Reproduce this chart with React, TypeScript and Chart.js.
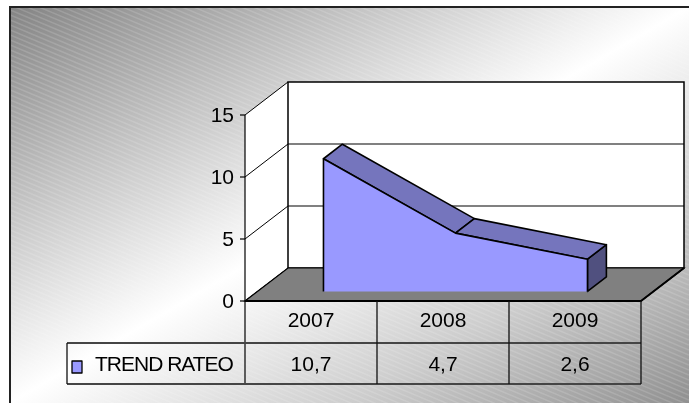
import React, { useEffect, useRef } from "react";
import { Chart, registerables } from "chart.js";

Chart.register(...registerables);

const categories = ["2007", "2008", "2009"];
const seriesName = "TREND RATEO";
const trendValues = [10.7, 4.7, 2.6];
const yTicks = [0, 5, 10, 15];

const FONT = '21px "Liberation Sans", Arial, sans-serif';

const fmt = (v: number) => String(v).replace(".", ",");

const chart3dPlugin = {
  id: "chart3d",
  afterDraw(chart: any) {
    const ctx: CanvasRenderingContext2D = chart.ctx;
    const W = chart.width;
    const H = chart.height;
    const xs = chart.scales.x;
    const ys = chart.scales.y;
    const area = chart.chartArea;
    const L = area.left;
    const R = area.right;
    const T = ys.getPixelForValue(yTicks[yTicks.length - 1]);
    const B = ys.getPixelForValue(0);
    const DX = 43;
    const DY = -33;
    const F1 = 0.29;
    const F2 = 0.73;

    ctx.save();
    // ---- page / frame background
    ctx.fillStyle = "#ffffff";
    ctx.fillRect(0, 0, W, H);
    const fx = 10, fy = 7;
    ctx.save();
    ctx.beginPath();
    ctx.rect(fx, fy, W - fx, H - fy);
    ctx.clip();
    ctx.save();
    ctx.translate(fx, fy);
    ctx.scale(W - fx, H - fy);
    const g = ctx.createLinearGradient(0, 0, 1, 1);
    g.addColorStop(0, "#848484");
    g.addColorStop(0.25, "#c2c2c2");
    g.addColorStop(0.5, "#ffffff");
    g.addColorStop(0.75, "#cdcdcd");
    g.addColorStop(1, "#909090");
    ctx.fillStyle = g;
    ctx.fillRect(0, 0, 1, 1);
    ctx.restore();
    // hatch
    ctx.strokeStyle = "rgba(255,255,255,0.14)";
    ctx.lineWidth = 1.5;
    const slope = 0.42;
    for (let y0 = -W * slope; y0 < H + 10; y0 += 5) {
      ctx.beginPath();
      ctx.moveTo(0, y0);
      ctx.lineTo(W, y0 + W * slope);
      ctx.stroke();
    }
    ctx.restore();
    ctx.strokeStyle = "#222";
    ctx.lineWidth = 2;
    ctx.beginPath();
    ctx.moveTo(fx, H);
    ctx.lineTo(fx, fy);
    ctx.lineTo(W, fy);
    ctx.stroke();

    // ---- walls
    ctx.fillStyle = "#ffffff";
    ctx.beginPath();
    ctx.moveTo(L, B);
    ctx.lineTo(L, T);
    ctx.lineTo(L + DX, T + DY);
    ctx.lineTo(L + DX, B + DY);
    ctx.closePath();
    ctx.fill();
    ctx.fillRect(L + DX, T + DY, R - L, B - T);

    // back-wall gridlines
    ctx.strokeStyle = "#808080";
    ctx.lineWidth = 2;
    yTicks.forEach((t) => {
      if (t === 0 || t === yTicks[yTicks.length - 1]) return;
      const y = ys.getPixelForValue(t) + DY;
      ctx.beginPath();
      ctx.moveTo(L + DX, y);
      ctx.lineTo(R + DX, y);
      ctx.stroke();
    });
    // side wall diagonals
    ctx.strokeStyle = "#000";
    ctx.lineWidth = 1;
    yTicks.forEach((t) => {
      const y = ys.getPixelForValue(t);
      ctx.beginPath();
      ctx.moveTo(L, y);
      ctx.lineTo(L + DX, y + DY);
      ctx.stroke();
    });
    // back wall border
    ctx.lineWidth = 1.5;
    ctx.strokeRect(L + DX, T + DY, R - L, B - T);

    // floor
    ctx.fillStyle = "#808080";
    ctx.beginPath();
    ctx.moveTo(L, B);
    ctx.lineTo(R, B);
    ctx.lineTo(R + DX, B + DY);
    ctx.lineTo(L + DX, B + DY);
    ctx.closePath();
    ctx.fill();
    ctx.strokeStyle = "#000";
    ctx.lineWidth = 1.2;
    ctx.stroke();

    // ---- 3D area
    const n = trendValues.length;
    const fp = trendValues.map((v, i) => ({
      x: xs.getPixelForValue(i) + F1 * DX,
      y: ys.getPixelForValue(v) + F1 * DY,
    }));
    const bp = trendValues.map((v, i) => ({
      x: xs.getPixelForValue(i) + F2 * DX,
      y: ys.getPixelForValue(v) + F2 * DY,
    }));
    const baseF = ys.getPixelForValue(0) + F1 * DY;
    const baseB = ys.getPixelForValue(0) + F2 * DY;
    ctx.lineJoin = "round";
    ctx.strokeStyle = "#000";
    ctx.lineWidth = 1.6;
    // end face at last category
    ctx.fillStyle = "#50507f";
    ctx.beginPath();
    ctx.moveTo(fp[n - 1].x, fp[n - 1].y);
    ctx.lineTo(bp[n - 1].x, bp[n - 1].y);
    ctx.lineTo(bp[n - 1].x, baseB);
    ctx.lineTo(fp[n - 1].x, baseF);
    ctx.closePath();
    ctx.fill();
    ctx.stroke();
    // ridges
    ctx.fillStyle = "#7575bd";
    for (let i = 0; i < n - 1; i++) {
      ctx.beginPath();
      ctx.moveTo(fp[i].x, fp[i].y);
      ctx.lineTo(fp[i + 1].x, fp[i + 1].y);
      ctx.lineTo(bp[i + 1].x, bp[i + 1].y);
      ctx.lineTo(bp[i].x, bp[i].y);
      ctx.closePath();
      ctx.fill();
      ctx.stroke();
    }
    // front face
    ctx.fillStyle = "#9999ff";
    ctx.beginPath();
    ctx.moveTo(fp[0].x, baseF);
    fp.forEach((p) => ctx.lineTo(p.x, p.y));
    ctx.lineTo(fp[n - 1].x, baseF);
    ctx.closePath();
    ctx.fill();
    ctx.beginPath();
    ctx.moveTo(fp[0].x, baseF);
    fp.forEach((p) => ctx.lineTo(p.x, p.y));
    ctx.lineTo(fp[n - 1].x, baseF);
    ctx.stroke();

    // ---- y axis
    const tableMid = B + 42;
    const tableBot = B + 83;
    ctx.strokeStyle = "#000";
    ctx.lineWidth = 1.2;
    ctx.beginPath();
    ctx.moveTo(L, T);
    ctx.lineTo(L, tableBot);
    ctx.stroke();
    ctx.font = FONT;
    ctx.fillStyle = "#000";
    ctx.textAlign = "right";
    ctx.textBaseline = "middle";
    yTicks.forEach((t) => {
      const y = ys.getPixelForValue(t);
      ctx.beginPath();
      ctx.moveTo(L - 5, y);
      ctx.lineTo(L, y);
      ctx.stroke();
      ctx.fillText(String(t), L - 11, y + 1);
    });
    // floor front edge (table top)
    ctx.lineWidth = 2;
    ctx.beginPath();
    ctx.moveTo(L, B);
    ctx.lineTo(R, B);
    ctx.lineTo(R + DX, B + DY);
    ctx.stroke();

    // ---- data table
    const colW = (R - L) / n;
    const legLeft = 67;
    ctx.strokeStyle = "#454545";
    ctx.lineWidth = 2;
    ctx.beginPath();
    ctx.moveTo(legLeft, tableMid);
    ctx.lineTo(R, tableMid);
    ctx.moveTo(legLeft, tableBot);
    ctx.lineTo(R, tableBot);
    ctx.stroke();
    ctx.strokeStyle = "#111";
    ctx.lineWidth = 1.3;
    ctx.beginPath();
    for (let k = 1; k <= n; k++) {
      const x = L + k * colW;
      ctx.moveTo(x, B);
      ctx.lineTo(x, tableBot);
    }
    ctx.moveTo(legLeft, tableMid);
    ctx.lineTo(legLeft, tableBot);
    ctx.stroke();

    ctx.textAlign = "center";
    ctx.fillStyle = "#000";
    categories.forEach((c, i) => {
      const x = xs.getPixelForValue(i);
      ctx.fillText(c, x, B + 20);
      ctx.fillText(fmt(trendValues[i]), x, tableMid + 22);
    });
    // legend key
    ctx.fillStyle = "#9999ff";
    ctx.fillRect(72, tableMid + 18, 10, 12);
    ctx.strokeStyle = "#000";
    ctx.lineWidth = 1.3;
    ctx.strokeRect(72, tableMid + 18, 10, 12);
    ctx.fillStyle = "#000";
    ctx.textAlign = "left";
    (ctx as any).letterSpacing = "-1px";
    ctx.fillText(seriesName, 95, tableMid + 22);
    (ctx as any).letterSpacing = "0px";

    ctx.restore();
  },
};

export default function App() {
  const ref = useRef<HTMLCanvasElement | null>(null);
  useEffect(() => {
    if (!ref.current) return;
    const chart = new Chart(ref.current, {
      type: "line",
      data: {
        labels: categories,
        datasets: [
          {
            label: seriesName,
            data: trendValues,
            showLine: false,
            pointRadius: 0,
            borderWidth: 0,
            fill: false,
          },
        ],
      },
      options: {
        responsive: false,
        animation: false,
        layout: { padding: { left: 245, right: 48, top: 115, bottom: 102 } },
        scales: {
          x: { display: false, offset: true },
          y: { display: false, min: 0, max: 15, ticks: { stepSize: 5 } },
        },
        plugins: { legend: { display: false }, tooltip: { enabled: false } },
      },
      plugins: [chart3dPlugin],
    });
    return () => chart.destroy();
  }, []);
  return (
    <div style={{ position: "absolute", left: 0, top: 0, width: 689, height: 403 }}>
      <canvas ref={ref} width={689} height={403} style={{ width: 689, height: 403, display: "block" }} />
    </div>
  );
}
